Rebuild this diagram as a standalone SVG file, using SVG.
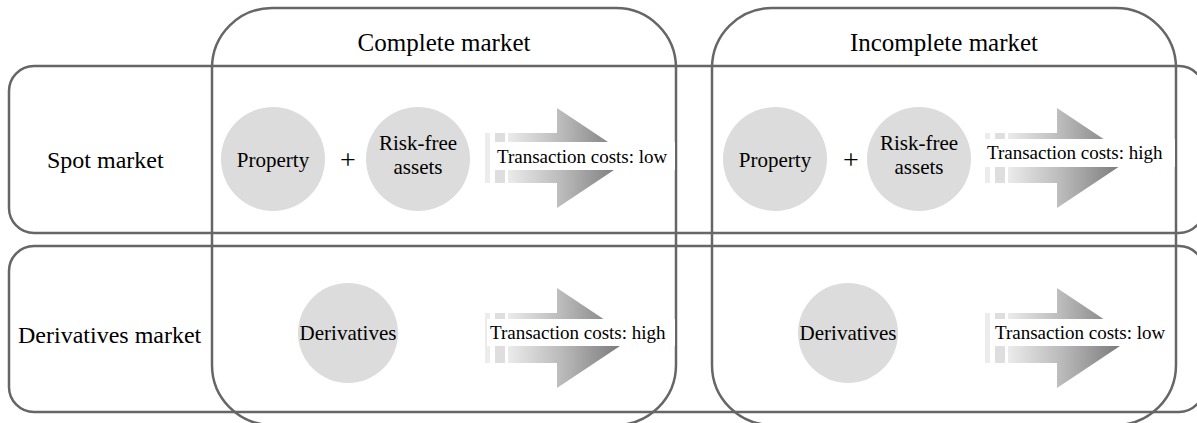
<svg xmlns="http://www.w3.org/2000/svg" width="1197" height="423" viewBox="0 0 1197 423">
<style>
.box{fill:none;stroke:#666;stroke-width:2.5}
.circ{fill:#dcdcdc}
.t{font-family:"Liberation Serif","Times New Roman",serif;fill:#000}
.hdr{font-size:25px;text-anchor:middle}
.row{font-size:24px}
.ct{font-size:21px;text-anchor:middle}
.plus{font-size:28px;text-anchor:middle}
.lbl{font-size:19px}
.lblbg{fill:#fff}
.s1{fill:#ececec}
.s2{fill:#dedede}
.body{fill:url(#ag)}
</style>
<defs>
<linearGradient id="ag" x1="0" y1="0" x2="1" y2="0">
<stop offset="0" stop-color="#ebebeb"/>
<stop offset="0.45" stop-color="#b8b8b8"/>
<stop offset="1" stop-color="#6e6e6e"/>
</linearGradient>
<g id="arrow">
<rect class="s1" x="0" y="-25" width="5" height="50"/>
<rect class="s2" x="10" y="-25" width="10" height="50"/>
<path class="body" d="M23,-25 H72 V-50 L147,0 L72,50 V25 H23 Z"/>
</g>
</defs>
<g id="row-spot">
<rect class="box" x="9" y="66" width="1195" height="167" rx="25"/>
<text class="t row" x="47" y="168">Spot market</text>
</g>
<g id="row-derivatives">
<rect class="box" x="9" y="246" width="1195" height="166" rx="25"/>
<text class="t row" x="18" y="343">Derivatives market</text>
</g>
<g id="col-complete">
<rect class="box" x="212" y="8" width="464" height="417" rx="60"/>
<text class="t hdr" x="444" y="51">Complete market</text>
</g>
<g id="col-incomplete">
<rect class="box" x="712" y="8" width="464" height="417" rx="60"/>
<text class="t hdr" x="944" y="51">Incomplete market</text>
</g>
<g id="complete-spot">
<g id="c-property"><circle class="circ" cx="273" cy="159" r="52"/><text class="t ct" x="273" y="167">Property</text></g>
<text class="t plus" x="348" y="169">+</text>
<g id="c-riskfree"><circle class="circ" cx="418" cy="159" r="52"/><text class="t ct" x="418" y="150">Risk-free</text><text class="t ct" x="418" y="174">assets</text></g>
<g id="c-spot-arrow"><use href="#arrow" x="485" y="158"/><rect class="lblbg" x="493" y="142" width="182" height="28"/><text class="t lbl" x="497" y="163">Transaction costs: low</text></g>
</g>
<g id="incomplete-spot">
<g id="i-property"><circle class="circ" cx="775" cy="159" r="52"/><text class="t ct" x="775" y="167">Property</text></g>
<text class="t plus" x="851" y="169">+</text>
<g id="i-riskfree"><circle class="circ" cx="919" cy="159" r="52"/><text class="t ct" x="919" y="150">Risk-free</text><text class="t ct" x="919" y="174">assets</text></g>
<g id="i-spot-arrow"><use href="#arrow" x="985" y="158"/><rect class="lblbg" x="984" y="139" width="191" height="28"/><text class="t lbl" x="987" y="159">Transaction costs: high</text></g>
</g>
<g id="complete-deriv">
<g id="c-derivatives"><circle class="circ" cx="348" cy="333" r="50"/><text class="t ct" x="348" y="340">Derivatives</text></g>
<g id="c-deriv-arrow"><use href="#arrow" x="485" y="338"/><rect class="lblbg" x="487" y="319" width="188" height="27"/><text class="t lbl" x="490" y="339">Transaction costs: high</text></g>
</g>
<g id="incomplete-deriv">
<g id="i-derivatives"><circle class="circ" cx="848" cy="333" r="50"/><text class="t ct" x="848" y="340">Derivatives</text></g>
<g id="i-deriv-arrow"><use href="#arrow" x="985" y="338"/><rect class="lblbg" x="992" y="319" width="182" height="27"/><text class="t lbl" x="995" y="339">Transaction costs: low</text></g>
</g>
</svg>
